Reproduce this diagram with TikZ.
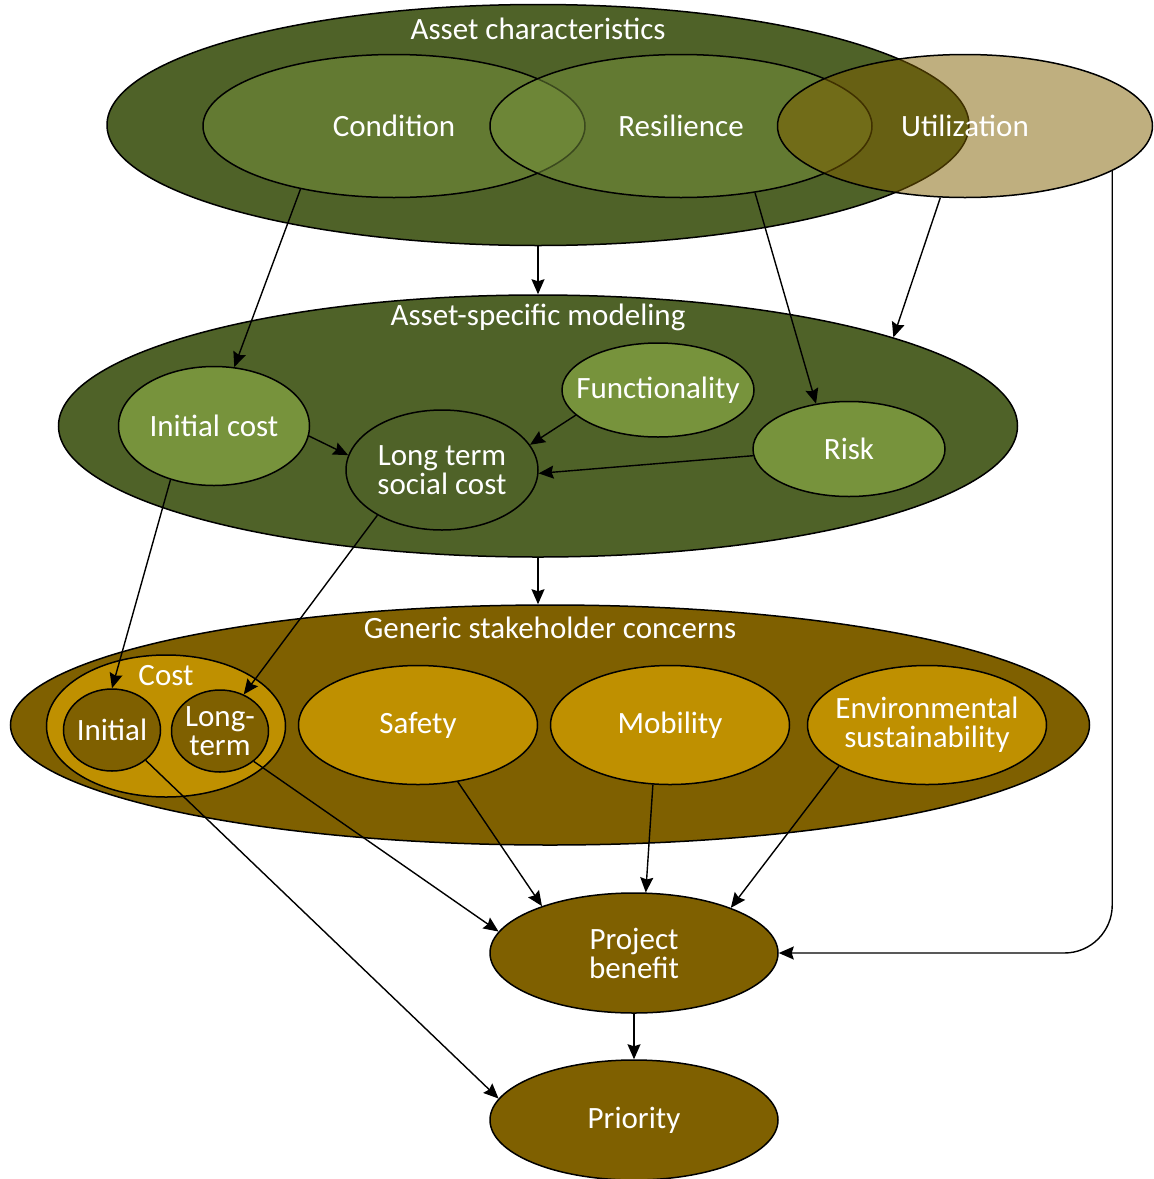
\documentclass[tikz,border=0pt]{standalone}
\usepackage{fontspec}
\setmainfont{Carlito}
\usetikzlibrary{shapes.geometric,arrows.meta}
\definecolor{darkgreen}{HTML}{4F6228}
\definecolor{olive}{HTML}{77933C}
\definecolor{brown}{HTML}{7F6000}
\definecolor{gold}{HTML}{BF9000}
\begin{document}
\begin{tikzpicture}[x=0.5pt,y=-0.5pt]
\tikzstyle{ell}=[ellipse,draw,inner sep=0pt,line width=0.75pt]
\tikzstyle{lbl}=[text=white,inner sep=0pt,align=center,font=\fontsize{15.5}{14.5}\selectfont]
\tikzstyle{arr}=[-{Stealth[length=7.5pt,width=6.5pt,inset=1pt]},line width=0.7pt]
\useasboundingbox (0,0) rectangle (1153,1179);
\node[ell,fill=darkgreen,minimum width=431pt,minimum height=120.5pt] (ac) at (538,125) {};
\node[lbl] (tac) at (538,29) {Asset characteristics};
\node[ell,fill=olive,fill opacity=0.5,minimum width=191pt,minimum height=71.5pt,label={[lbl]center:Condition}] (cond) at (394,126) {};
\node[ell,fill=olive,fill opacity=0.5,minimum width=191pt,minimum height=71.5pt,label={[lbl]center:Resilience}] (res) at (681,126) {};
\node[ell,fill=brown,fill opacity=0.5,minimum width=187.5pt,minimum height=71.5pt,label={[lbl]center:Utilization}] (util) at (965,126) {};
\node[ell,fill=darkgreen,minimum width=479.5pt,minimum height=131pt] (asm) at (538,426) {};
\node[lbl] (tasm) at (538,317) {Asset-specific modeling};
\node[ell,fill=olive,minimum width=95.5pt,minimum height=59.5pt,label={[lbl]center:Initial cost}] (icost) at (214,426) {};
\node[ell,fill=olive,minimum width=96pt,minimum height=47pt,label={[lbl]center:Functionality}] (func) at (658,390) {};
\node[ell,fill=darkgreen,minimum width=96pt,minimum height=60pt,label={[lbl]center:Long term\\social cost}] (ltsc) at (442,470) {};
\node[ell,fill=olive,minimum width=96pt,minimum height=47.5pt,label={[lbl]center:Risk}] (risk) at (849,449) {};
\node[ell,fill=brown,minimum width=539.5pt,minimum height=120pt] (gsc) at (550,725) {};
\node[lbl] (tgsc) at (550,628) {Generic stakeholder concerns};
\node[ell,fill=gold,minimum width=119.5pt,minimum height=71pt] (cost) at (166,726) {};
\node[lbl] (tcost) at (166,676) {Cost};
\node[ell,fill=brown,minimum width=48.5pt,minimum height=41pt,label={[lbl]center:Initial}] (init) at (112,730) {};
\node[ell,fill=brown,minimum width=48.5pt,minimum height=41pt,label={[lbl]center:Long-\\term}] (lterm) at (220,731) {};
\node[ell,fill=gold,minimum width=119.5pt,minimum height=59.5pt,label={[lbl]center:Safety}] (safe) at (418,725) {};
\node[ell,fill=gold,minimum width=119.5pt,minimum height=59.5pt,label={[lbl]center:Mobility}] (mob) at (670,725) {};
\node[ell,fill=gold,minimum width=119.5pt,minimum height=59.5pt,label={[lbl]center:Environmental\\sustainability}] (env) at (927,725) {};
\node[ell,fill=brown,minimum width=144pt,minimum height=60pt,label={[lbl]center:Project\\benefit}] (pben) at (634,953) {};
\node[ell,fill=brown,minimum width=144pt,minimum height=60pt,label={[lbl]center:Priority}] (prio) at (634,1120) {};
\draw[arr] (ac.south) -- (asm.north);
\draw[arr] (asm.south) -- (gsc.north -| asm.south);
\draw[arr] (pben.south) -- (prio.north);
\draw[arr] (cond.214) -- (icost.71);
\draw[arr] (res.318) -- (risk.126);
\draw[arr] (util.251) -- (asm.14);
\draw[arr,rounded corners=24pt] (util.343) |- (pben.east);
\draw[arr] (icost.354) -- (ltsc.171);
\draw[arr] (func.197) -- (ltsc.16);
\draw[arr] (risk.184) -- (ltsc.358);
\draw[arr] (icost.231) -- (init.90);
\draw[arr] (ltsc.215) -- (lterm.57);
\draw[arr] (init.318) -- (prio.171);
\draw[arr] (lterm.318) -- (pben.171);
\draw[arr] (safe.305) -- (pben.153);
\draw[arr] (mob.254) -- (pben.79);
\draw[arr] (env.205) -- (pben.25);
\end{tikzpicture}
\end{document}
